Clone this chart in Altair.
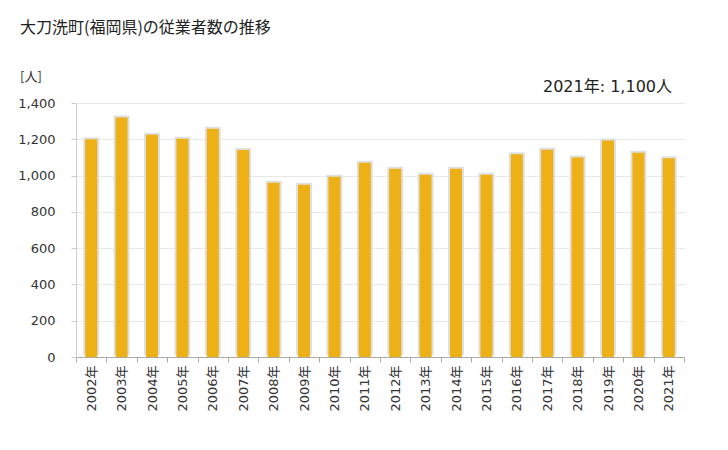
import altair as alt
import pandas as pd

years = ["2002年", "2003年", "2004年", "2005年", "2006年", "2007年", "2008年",
         "2009年", "2010年", "2011年", "2012年", "2013年", "2014年", "2015年",
         "2016年", "2017年", "2018年", "2019年", "2020年", "2021年"]
values = [1200, 1320, 1225, 1203, 1258, 1141, 961, 950, 993, 1071,
          1038, 1005, 1038, 1005, 1118, 1142, 1100, 1193, 1126, 1095]
y_ticks = [0, 200, 400, 600, 800, 1000, 1200, 1400]

title_text = "大刀洗町(福岡県)の従業者数の推移"
unit_text = "[人]"
note_text = "2021年: 1,100人"

df = pd.DataFrame({"year": years, "value": values})
one = pd.DataFrame({"k": [0]})

LATIN = "DejaVu Sans, Noto Sans CJK JP"
CJK = "Noto Sans CJK JP"

x_enc = alt.X("year:N", sort=years,
              scale=alt.Scale(paddingInner=0, paddingOuter=0),
              axis=alt.Axis(title=None, labelAngle=270, tickBand="extent",
                            labelFont=LATIN, labelFontSize=13, labelColor="#333",
                            domainColor="#aaa", tickColor="#aaa", tickSize=5,
                            labelPadding=3))
y_enc = alt.Y("value:Q", scale=alt.Scale(domain=[0, 1400], nice=False),
              axis=alt.Axis(title=None, values=y_ticks, format=",d",
                            labelFont=LATIN, labelFontSize=13, labelColor="#333",
                            domainColor="#ccc", tickColor="#ccc", tickSize=5,
                            labelPadding=16, gridColor="#e8e8e8"))

shadow = alt.Chart(df).mark_bar(size=16, color="#e0e0e0", yOffset=-2).encode(
    x=x_enc, y=y_enc)
bars = alt.Chart(df).mark_bar(size=12, color="#EDB016").encode(
    x=x_enc, y=y_enc)

title = alt.Chart(one).mark_text(text=title_text, font=CJK, fontSize=16,
                                 align="left", baseline="middle", color="#222").encode(
    x=alt.value(-56), y=alt.value(-75))
unit = alt.Chart(one).mark_text(text=unit_text, font=CJK, fontSize=13,
                                align="left", baseline="middle", color="#333").encode(
    x=alt.value(-56), y=alt.value(-26))
note = alt.Chart(one).mark_text(text=note_text, font=LATIN, fontSize=16,
                                align="right", baseline="middle", color="#222").encode(
    x=alt.value(596), y=alt.value(-16))

chart = alt.layer(shadow, bars, title, unit, note).properties(
    width=608, height=254,
    autosize=alt.AutoSizeParams(type="none"),
    padding={"left": 68, "top": 95, "right": 36, "bottom": 85},
).configure_view(stroke=None).configure_axis(grid=True).configure_axisX(grid=False)

chart.save("out.html", embed_options={"renderer": "svg", "actions": False})
